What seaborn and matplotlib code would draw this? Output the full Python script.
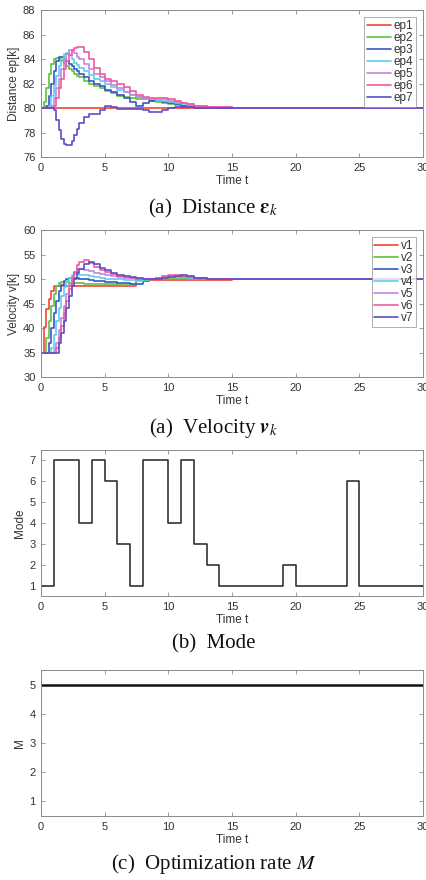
import matplotlib
matplotlib.use("Agg")
import matplotlib.pyplot as plt
import pandas as pd
import seaborn as sns

# ---------------------------------------------------------------------------
# data
# ---------------------------------------------------------------------------
T = [0, 0.2, 0.4, 0.6, 0.8, 1.0, 1.2, 1.4, 1.6, 1.8, 2.0, 2.2, 2.4, 2.6, 2.8,
     3.0, 3.4, 3.8, 4.2, 4.6, 5.0, 5.5, 6.0, 6.5, 7.0, 7.5, 8.0, 8.5, 9.0, 9.5,
     10, 10.5, 11, 11.5, 12, 13, 14, 15, 17, 20, 30]

ep1 = [80, 80, 80, 80, 80, 80, 80, 80, 80, 80, 80, 80, 80, 80, 80,
       80, 80, 80, 80, 80, 80, 80, 80, 80, 80, 80, 80, 80, 80, 80,
       80, 80, 80, 80, 80, 80, 80, 80, 80, 80, 80]
ep2 = [80.0, 80.5, 81.6, 82.8, 83.6, 84.0, 84.1, 84.0, 83.8, 83.6, 83.4, 83.2, 83.0, 82.8, 82.6,
       82.5, 82.2, 82.0, 81.8, 81.6, 81.4, 81.2, 81.0, 80.9, 80.8, 80.7, 80.7, 80.6, 80.5, 80.4,
       80.3, 80.25, 80.2, 80.15, 80.1, 80.05, 80.02, 80.0, 80.0, 80.0, 80.0]
ep3 = [80.0, 80.0, 80.2, 81.0, 82.0, 83.0, 83.8, 84.2, 84.2, 84.0, 83.8, 83.6, 83.4, 83.2, 83.0,
       82.8, 82.5, 82.2, 82.0, 81.8, 81.5, 81.3, 81.1, 80.8, 80.5, 80.2, 80.4, 80.6, 80.6, 80.5,
       80.4, 80.3, 80.2, 80.15, 80.1, 80.05, 80.02, 80.0, 80.0, 80.0, 80.0]
ep4 = [80.0, 80.0, 80.0, 80.2, 81.0, 81.8, 82.6, 83.4, 84.0, 84.4, 84.5, 84.3, 84.0, 83.7, 83.5,
       83.3, 83.0, 82.7, 82.4, 82.2, 82.0, 81.7, 81.5, 81.3, 81.1, 80.9, 80.8, 80.7, 80.6, 80.6,
       80.5, 80.4, 80.3, 80.25, 80.2, 80.1, 80.05, 80.02, 80.0, 80.0, 80.0]
ep5 = [80.0, 80.0, 80.0, 80.0, 80.2, 80.8, 81.6, 82.4, 83.2, 83.9, 84.4, 84.7, 84.7, 84.5, 84.2,
       84.0, 83.6, 83.2, 82.8, 82.5, 82.2, 81.9, 81.6, 81.3, 81.1, 80.9, 80.7, 80.7, 80.7, 80.7,
       80.6, 80.5, 80.4, 80.3, 80.2, 80.1, 80.05, 80.02, 80.0, 80.0, 80.0]
ep6 = [80.0, 80.0, 80.0, 80.0, 80.0, 80.2, 80.8, 81.6, 82.4, 83.2, 83.8, 84.3, 84.7, 84.9, 85.0,
       85.0, 84.6, 84.0, 83.3, 82.8, 82.4, 82.2, 82.0, 81.7, 81.4, 81.1, 80.9, 80.8, 80.8, 80.8,
       80.7, 80.6, 80.4, 80.3, 80.2, 80.1, 80.05, 80.02, 80.0, 80.0, 80.0]
ep7 = [80.0, 80.0, 80.0, 80.0, 80.0, 79.8, 79.0, 78.2, 77.5, 77.1, 77.0, 77.0, 77.3, 77.8, 78.3,
       78.8, 79.3, 79.5, 79.5, 79.8, 80.2, 80.1, 79.95, 79.9, 79.9, 79.9, 79.8, 79.7, 79.65, 79.8,
       80.0, 80.1, 80.1, 80.05, 80.0, 80.0, 80.0, 80.0, 80.0, 80.0, 80.0]

v1 = [35.0, 40.2, 43.8, 46.0, 47.5, 48.5, 48.5, 48.5, 48.5, 48.5, 48.5, 48.5, 48.5, 48.5, 48.5,
      48.5, 48.5, 48.5, 48.5, 48.5, 48.5, 48.5, 48.5, 48.5, 48.5, 49.7, 49.7, 49.7, 49.7, 49.7,
      49.7, 49.7, 49.7, 49.7, 49.7, 49.7, 49.7, 50.0, 50.0, 50.0, 50.0]
v2 = [35.0, 35.0, 38.0, 41.5, 44.5, 47.0, 48.5, 49.2, 49.3, 49.3, 49.3, 49.2, 49.2, 49.2, 49.1,
      49.1, 49.0, 49.0, 49.0, 48.9, 48.9, 48.9, 48.8, 48.8, 48.7, 49.8, 49.9, 49.9, 50.0, 50.1,
      50.3, 50.3, 50.2, 50.1, 50.0, 50.0, 50.0, 50.0, 50.0, 50.0, 50.0]
v3 = [35.0, 35.0, 35.0, 37.0, 40.0, 43.0, 45.5, 47.5, 48.8, 49.5, 50.0, 50.2, 50.3, 50.3, 50.2,
      50.1, 50.0, 49.8, 49.6, 49.5, 49.4, 49.3, 49.2, 49.1, 49.0, 48.9, 49.5, 50.0, 50.3, 50.5,
      50.6, 50.7, 50.6, 50.4, 50.2, 50.1, 50.0, 50.0, 50.0, 50.0, 50.0]
v4 = [35.0, 35.0, 35.0, 35.0, 36.0, 38.5, 41.5, 44.0, 46.5, 48.3, 49.5, 50.3, 50.8, 51.0, 51.0,
      50.9, 50.8, 50.6, 50.4, 50.3, 50.1, 50.0, 49.9, 49.8, 49.7, 49.6, 49.8, 50.1, 50.3, 50.5,
      50.6, 50.6, 50.5, 50.3, 50.2, 50.1, 50.0, 50.0, 50.0, 50.0, 50.0]
v5 = [35.0, 35.0, 35.0, 35.0, 35.0, 35.5, 37.0, 39.5, 42.0, 44.5, 47.0, 49.0, 50.5, 51.5, 52.0,
      52.1, 51.9, 51.6, 51.3, 51.0, 50.8, 50.6, 50.4, 50.3, 50.2, 50.1, 50.0, 50.0, 50.2, 50.4,
      50.6, 50.6, 50.5, 50.4, 50.2, 50.1, 50.0, 50.0, 50.0, 50.0, 50.0]
v6 = [35.0, 35.0, 35.0, 35.0, 35.0, 35.0, 36.0, 38.0, 40.5, 43.0, 45.5, 48.0, 50.0, 51.5, 52.8,
      53.5, 53.8, 53.2, 52.5, 51.8, 51.4, 51.0, 50.7, 50.5, 50.3, 50.0, 49.9, 50.0, 50.3, 50.6,
      50.8, 50.8, 50.6, 50.4, 50.2, 50.1, 50.0, 50.0, 50.0, 50.0, 50.0]
v7 = [35.0, 35.0, 35.0, 35.0, 35.0, 35.0, 35.0, 37.0, 39.0, 41.5, 44.0, 46.5, 48.5, 50.0, 51.2,
      52.0, 53.0, 53.5, 53.0, 52.3, 51.8, 51.2, 50.8, 50.6, 50.4, 50.2, 50.0, 50.0, 50.1, 50.3,
      50.5, 50.7, 50.8, 50.6, 50.3, 50.1, 50.0, 50.0, 50.0, 50.0, 50.0]

T_MODE = [0, 1, 2, 3, 4, 5, 6, 7, 8, 9, 10, 11, 12, 13, 14, 15, 16, 17, 18, 19,
          20, 21, 22, 23, 24, 25, 26, 27, 28, 29, 30]
MODE = [1, 7, 7, 4, 7, 6, 3, 1, 7, 7, 4, 7, 3, 2, 1, 1, 1, 1, 1, 2,
        1, 1, 1, 1, 6, 1, 1, 1, 1, 1, 1]

T_M = [0, 30]
M_RATE = [5, 5]

DIST = {"ep1": ep1, "ep2": ep2, "ep3": ep3, "ep4": ep4, "ep5": ep5, "ep6": ep6, "ep7": ep7}
VEL = {"v1": v1, "v2": v2, "v3": v3, "v4": v4, "v5": v5, "v6": v6, "v7": v7}

COLORS = ["#f2443a", "#5cc43c", "#3a56c4", "#5fcdef", "#c386dc", "#f2599e", "#5d4ec6"]

# ---------------------------------------------------------------------------
sns.set_theme(style="ticks")
plt.rcParams["font.family"] = ["Liberation Sans", "DejaVu Sans"]
plt.rcParams["mathtext.fontset"] = "stix"

SPINE = "#8a8a8a"
TXT = "#333333"

fig = plt.figure(figsize=(4.27, 8.8), dpi=100)
L, W = 41 / 427, 382 / 427


def make_axes(top_px, bottom_px):
    return fig.add_axes([L, 1 - bottom_px / 880, W, (bottom_px - top_px) / 880])


def style(ax, ylabel):
    ax.set_xlim(0, 30)
    ax.set_xticks([0, 5, 10, 15, 20, 25, 30])
    ax.tick_params(direction="in", top=True, right=True, length=3, width=0.6,
                   colors=SPINE, labelcolor=TXT, labelsize=8, pad=4)
    for s in ax.spines.values():
        s.set_color(SPINE)
        s.set_linewidth(0.7)
    ax.set_xlabel("Time t", fontsize=8.5, color=TXT, labelpad=1.5)
    ax.set_ylabel(ylabel, fontsize=8.5, color=TXT, labelpad=2)


def caption(y_px, text):
    fig.text(0.5, 1 - y_px / 880, text, ha="center", va="center",
             fontsize=15, family="Liberation Serif", color="#111111")


def draw_group(ax, series, x):
    for (name, vals), c in zip(series.items(), COLORS):
        sns.lineplot(x=x, y=vals, ax=ax, color=c, lw=1.2, label=name,
                     drawstyle="steps-post")
    leg = ax.legend(loc="upper right", fontsize=8.5, frameon=True, fancybox=False,
                    borderpad=0.25, labelspacing=0.0, handlelength=2.0,
                    handletextpad=0.2, borderaxespad=0.6)
    leg.get_frame().set_edgecolor(SPINE)
    leg.get_frame().set_linewidth(0.6)
    for t in leg.get_texts():
        t.set_color(TXT)


# (a) distance
ax1 = make_axes(10, 157)
draw_group(ax1, DIST, T)
ax1.set_ylim(76, 88)
ax1.set_yticks([76, 78, 80, 82, 84, 86, 88])
style(ax1, "Distance ep[k]")
caption(208, r"(a)  Distance $\boldsymbol{\varepsilon}_k$")

# (a) velocity
ax2 = make_axes(230, 377)
draw_group(ax2, VEL, T)
ax2.set_ylim(30, 60)
ax2.set_yticks([30, 35, 40, 45, 50, 55, 60])
style(ax2, "Velocity v[k]")
caption(428, r"(a)  Velocity $\boldsymbol{v}_k$")

# (b) mode
ax3 = make_axes(450, 596)
sns.lineplot(x=T_MODE, y=MODE, ax=ax3, color="#222222", lw=1.1, drawstyle="steps-post")
ax3.set_ylim(0.5, 7.5)
ax3.set_yticks([1, 2, 3, 4, 5, 6, 7])
style(ax3, "Mode")
caption(644, "(b)  Mode")

# (c) optimization rate
ax4 = make_axes(670, 816)
sns.lineplot(x=T_M, y=M_RATE, ax=ax4, color="#111111", lw=1.8)
ax4.set_ylim(0.5, 5.5)
ax4.set_yticks([1, 2, 3, 4, 5])
style(ax4, "M")
caption(864, r"(c)  Optimization rate $M$")

fig.savefig("out.png", dpi=100)
